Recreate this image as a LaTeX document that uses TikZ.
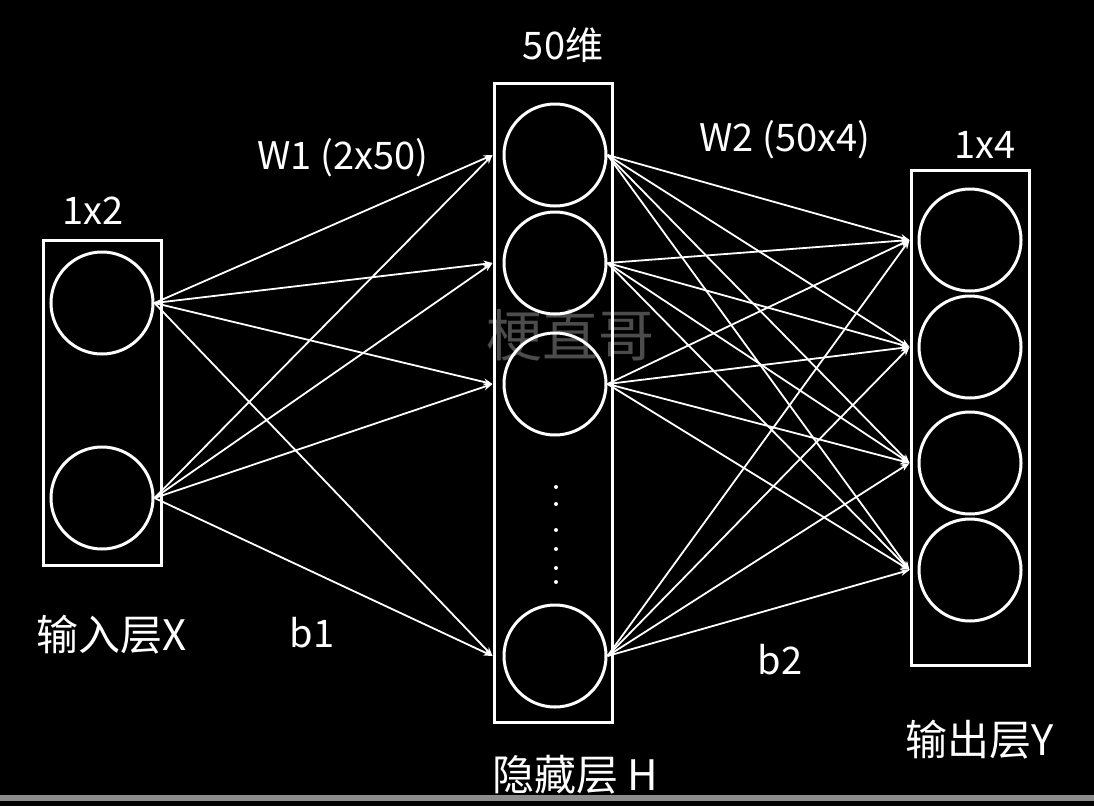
\documentclass[tikz,border=0pt]{standalone}
\usepackage{fontspec}
\setmainfont{Noto Sans CJK SC}
\usetikzlibrary{arrows.meta}
\begin{document}
\begin{tikzpicture}[x=1pt,y=-1pt,
  layerbox/.style={draw=white,line width=3pt,minimum width=118pt,inner sep=0pt},
  neuron/.style={circle,draw=white,line width=3pt,minimum size=102pt,inner sep=0pt},
  conn/.style={white,line width=1.8pt,-{Stealth[length=9pt,width=7pt]}},
  lbl/.style={text=white,font=\fontsize{38}{42}\selectfont,inner sep=0pt},
  cjk/.style={text=white,font=\fontsize{42}{46}\selectfont,inner sep=0pt}]
\fill[black] (0,0) rectangle (1094,806);
\useasboundingbox (0,0) rectangle (1094,806);
% watermark
\node[text=white!30!black,font=\fontsize{56}{60}\selectfont,inner sep=0pt] (wm) at (570,335) {梗直哥};
% boxes
\node[layerbox,minimum height=325pt] (xbox) at (102,402.5) {};
\node[layerbox,minimum height=639pt] (hbox) at (553,402.5) {};
\node[layerbox,minimum height=495pt] (ybox) at (970,417.5) {};
% neurons
\node[neuron] (x1) at (102,303) {};
\node[neuron] (x2) at (102,498) {};
\node[neuron] (h1) at (555,155) {};
\node[neuron] (h2) at (555,263) {};
\node[neuron] (h3) at (555,384) {};
\node[neuron] (h4) at (555,656) {};
\node[neuron] (y1) at (970,240) {};
\node[neuron] (y2) at (970,347) {};
\node[neuron] (y3) at (970,463) {};
\node[neuron] (y4) at (970,570) {};
% dots
\foreach \yy in {487,504,530,549,568,582}
  \fill[white] (556,\yy) circle (2pt);
% connectors input -> hidden
\foreach \a in {x1,x2}
  \foreach \b in {h1,h2,h3,h4}
    \draw[conn] (\a.east) -- (hbox.west |- \b.center);
% connectors hidden -> output
\foreach \a in {h1,h2,h3,h4}
  \foreach \b in {y1,y2,y3,y4}
    \draw[conn] (\a.east) -- (ybox.west |- \b.center);
% labels
\node[lbl] (l12) at (93,211) {1x2};
\node[lbl] (l50) at (563,45) {50维};
\node[lbl] (l14) at (985,145) {1x4};
\node[lbl] (w1) at (343,158) {W1 (2x50)};
\node[lbl] (w2) at (785,140) {W2 (50x4)};
\node[lbl] (b1) at (312,633) {b1};
\node[lbl] (b2) at (780,660) {b2};
\node[cjk] (inx) at (112,635) {输入层X};
\node[cjk] (hid) at (575,775) {隐藏层 H};
\node[cjk] (outy) at (980,740) {输出层Y};
% bottom bar
\fill[white!55!black] (0,795) rectangle (1094,801);
\end{tikzpicture}
\end{document}
